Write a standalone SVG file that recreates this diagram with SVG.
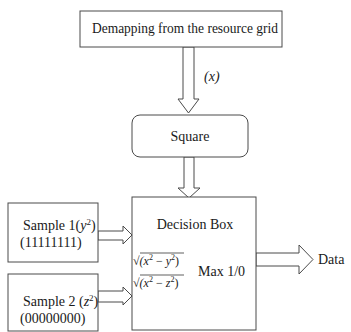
<svg xmlns="http://www.w3.org/2000/svg" width="351" height="332" viewBox="0 0 351 332">
  <style>
    .box { fill: #ffffff; stroke: #4a4a4a; stroke-width: 1; }
    .arrow { fill: #ffffff; stroke: #4a4a4a; stroke-width: 1; stroke-linejoin: miter; }
    .t { font-family: "Liberation Serif", "Times New Roman", serif; font-size: 14px; fill: #1a1a1a; }
    .f { font-family: "Liberation Serif", "Times New Roman", serif; font-size: 12px; fill: #1a1a1a; font-style: italic; }
    .fn { font-style: normal; }
  </style>
  <rect width="351" height="332" fill="#ffffff"/>

  <g id="connectors">
    <!-- demapping -> square -->
    <polygon class="arrow" points="183,47 194,47 194,99 199,99 188.5,113 178,99 183,99"/>
    <!-- square -> decision box -->
    <polygon class="arrow" points="184,157 194,157 194,188 200,188 189,198 178,188 184,188"/>
    <!-- sample 1 -> decision box -->
    <polygon class="arrow" points="98,231 123,231 123,226 132,235 123,244 123,240 98,240"/>
    <!-- sample 2 -> decision box -->
    <polygon class="arrow" points="98,291 123,291 123,287 132,296 123,305 123,302 98,302"/>
    <!-- decision box -> data -->
    <polygon class="arrow" points="256,253 299,253 299,245 313,259.5 299,274 299,266 256,266"/>
    <text class="t" x="204" y="81" font-style="italic" font-size="12">(x)</text>
  </g>

  <g id="demapping">
    <rect class="box" x="80" y="11" width="202" height="36"/>
    <text class="t" x="185" y="33" text-anchor="middle" textLength="186" lengthAdjust="spacingAndGlyphs">Demapping from the resource grid</text>
  </g>

  <g id="square">
    <rect class="box" x="132" y="115" width="116" height="42" rx="8" ry="8"/>
    <text class="t" x="190" y="141" text-anchor="middle">Square</text>
  </g>

  <g id="decision-box">
    <rect class="box" x="132" y="197" width="124" height="133"/>
    <text class="t" x="195" y="229" text-anchor="middle">Decision Box</text>
    <!-- sqrt((x^2 - y^2)) -->
    <text class="f" x="133" y="265"><tspan class="fn">√</tspan>(<tspan>x</tspan><tspan class="fn" font-size="8" dy="-5">2</tspan><tspan class="fn" dy="5"> − </tspan>y<tspan class="fn" font-size="8" dy="-5">2</tspan><tspan class="fn" dy="5">)</tspan></text>
    <line x1="140" y1="253" x2="184" y2="253" stroke="#1a1a1a" stroke-width="0.7"/>
    <!-- sqrt((x^2 - z^2)) -->
    <text class="f" x="133" y="287"><tspan class="fn">√</tspan>(<tspan>x</tspan><tspan class="fn" font-size="8" dy="-5">2</tspan><tspan class="fn" dy="5"> − </tspan>z<tspan class="fn" font-size="8" dy="-5">2</tspan><tspan class="fn" dy="5">)</tspan></text>
    <line x1="140" y1="275" x2="184" y2="275" stroke="#1a1a1a" stroke-width="0.7"/>
    <text class="t" x="198" y="276">Max 1/0</text>
  </g>

  <g id="sample1">
    <rect class="box" x="8" y="203" width="90" height="59"/>
    <text class="t" x="23" y="230">Sample 1(<tspan font-style="italic">y</tspan><tspan font-size="9" dy="-5">2</tspan><tspan dy="5">)</tspan></text>
    <text class="t" x="20" y="247">(11111111)</text>
  </g>

  <g id="sample2">
    <rect class="box" x="8" y="274" width="90" height="57"/>
    <text class="t" x="23" y="306">Sample 2 (<tspan font-style="italic">z</tspan><tspan font-size="9" dy="-5">2</tspan><tspan dy="5">)</tspan></text>
    <text class="t" x="20" y="323">(00000000)</text>
  </g>

  <g id="data">
    <text class="t" x="318" y="264">Data</text>
  </g>
</svg>
